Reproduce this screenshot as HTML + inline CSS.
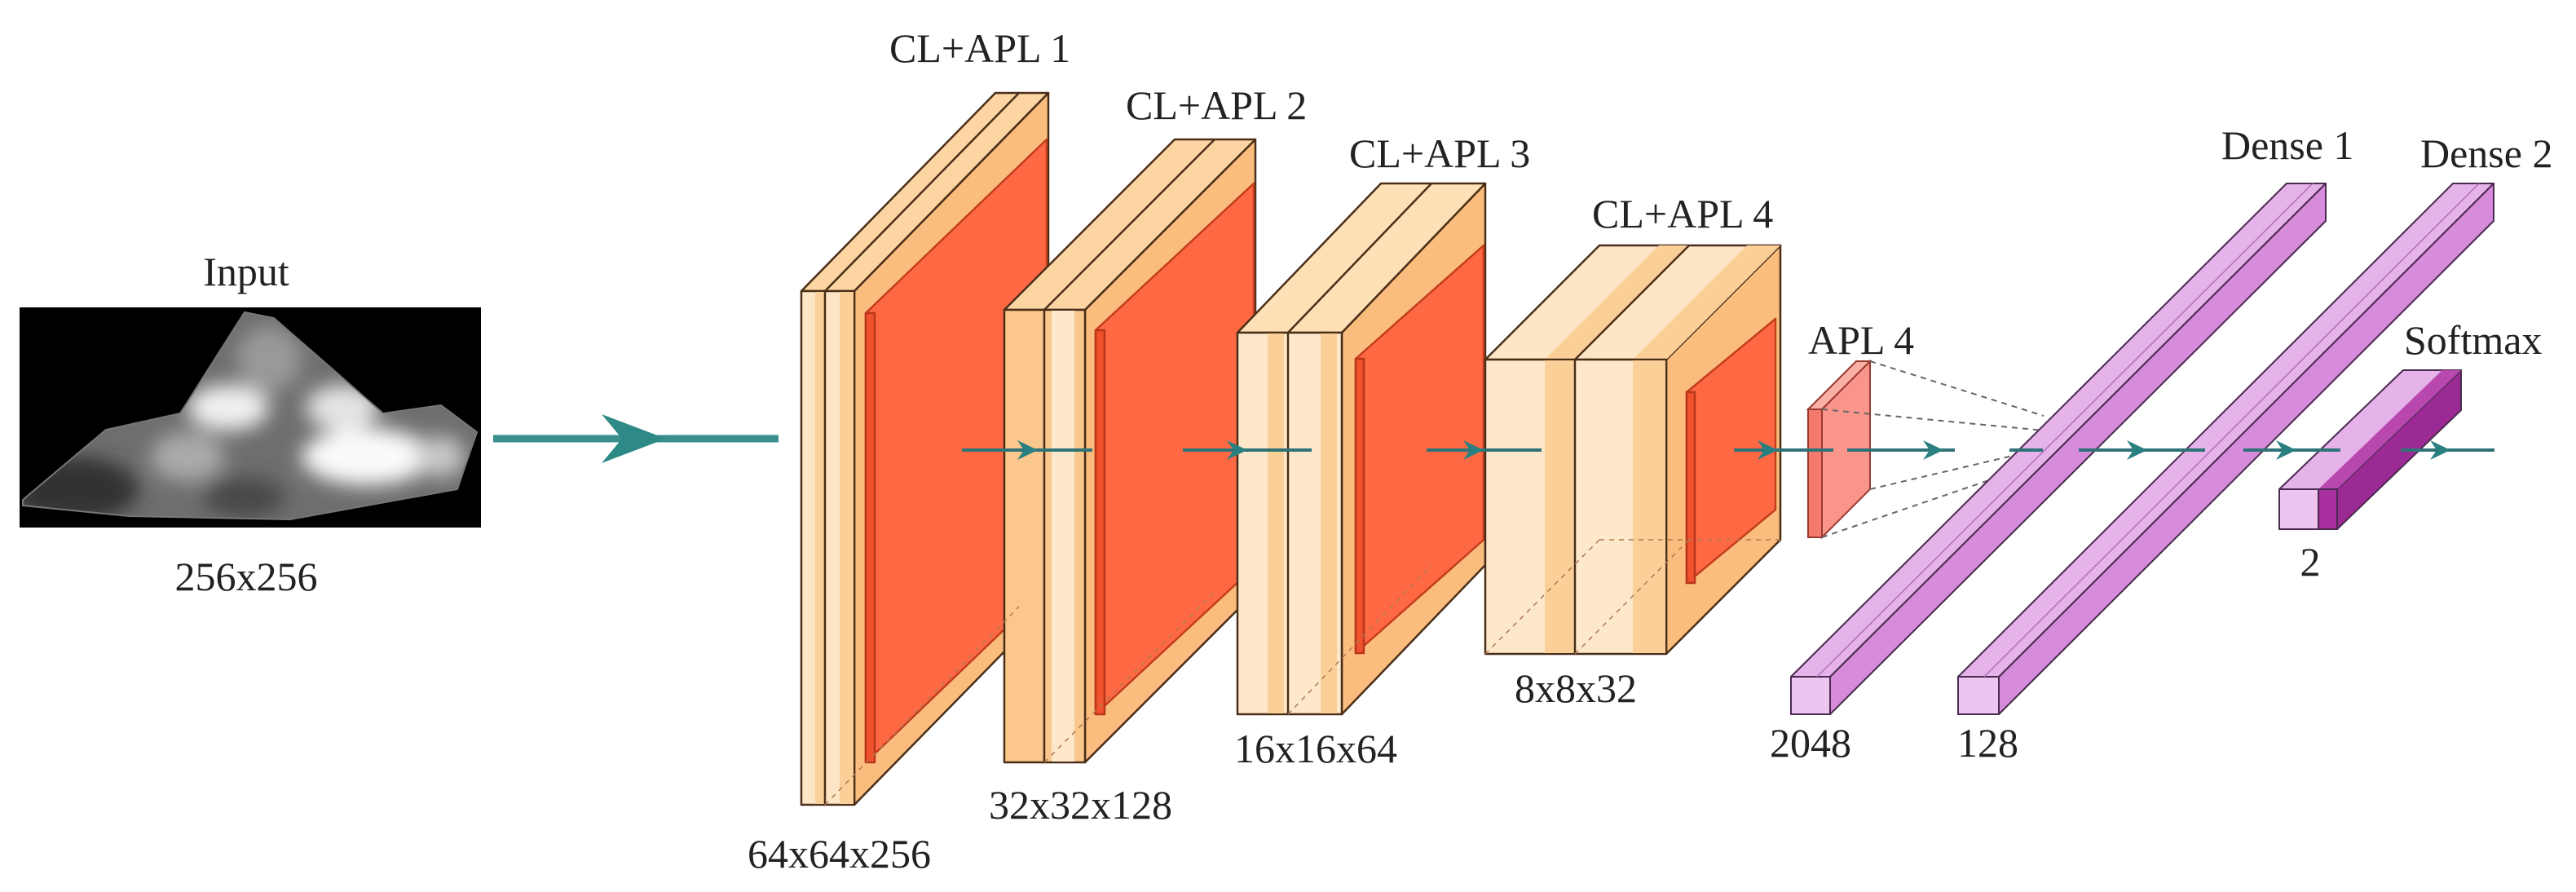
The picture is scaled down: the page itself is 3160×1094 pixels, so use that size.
<!DOCTYPE html>
<html><head><meta charset="utf-8"><style>html,body{margin:0;padding:0;background:#fff}svg{display:block}text{font-family:"Liberation Serif","Times New Roman",serif;font-size:50px;fill:#222}</style></head>
<body>
<svg width="3160" height="1094" viewBox="0 0 3160 1094" xmlns="http://www.w3.org/2000/svg" font-family="Liberation Serif, serif">
<defs>
<clipPath id="blob"><polygon points="28,613 130,527 221,507 300,383 336,390 470,507 541,497 585,530 561,600 356,637 158,633 28,620"/></clipPath>
<filter id="bl" x="-50%" y="-50%" width="200%" height="200%"><feGaussianBlur stdDeviation="12"/></filter>
</defs>
<!-- Input -->
<rect x="24" y="377" width="566" height="270" fill="#000"/>
<g clip-path="url(#blob)">
<rect x="24" y="377" width="566" height="270" fill="#6e6e6e"/>
<g filter="url(#bl)">
<ellipse cx="90" cy="600" rx="80" ry="40" fill="#303030"/>
<ellipse cx="280" cy="500" rx="50" ry="28" fill="#f0f0f0"/>
<ellipse cx="450" cy="560" rx="80" ry="35" fill="#fafafa"/>
<ellipse cx="420" cy="500" rx="45" ry="28" fill="#e4e4e4"/>
<ellipse cx="330" cy="440" rx="40" ry="40" fill="#999"/>
<ellipse cx="230" cy="560" rx="45" ry="30" fill="#aaa"/>
<ellipse cx="540" cy="560" rx="30" ry="25" fill="#c8c8c8"/>
<ellipse cx="300" cy="610" rx="50" ry="25" fill="#4a4a4a"/>
</g>
</g>
<polygon points="28,613 130,527 221,507 300,383 336,390 470,507 541,497 585,530 561,600 356,637 158,633 28,620" fill="none" stroke="#777" stroke-width="2"/>
<text x="302" y="350" text-anchor="middle">Input</text>
<text x="302" y="724" text-anchor="middle">256x256</text>
<!-- big arrow -->
<line x1="605" y1="538" x2="955" y2="538" stroke="#3a8f8c" stroke-width="9"/>
<polygon points="738,508 817,538 738,568 763,538" fill="#2e8a86"/>

<g stroke="#4a2e18" stroke-width="2.5" stroke-linejoin="round">
<!-- Block1 -->
<polygon points="1048,357 1286,114 1286,744 1048,987" fill="#fbbd7e"/>
<polygon points="983,357 1048,357 1286,114 1221,114" fill="#fcd5a2"/>
<line x1="1012" y1="357" x2="1250" y2="114"/>
<rect x="983" y="357" width="65" height="630" fill="#fde6c6"/>
<rect x="1000" y="358" width="12" height="628" fill="#fbcf98" stroke="none"/>
<rect x="1030" y="358" width="17" height="628" fill="#fbcf98" stroke="none"/>
<line x1="1012" y1="357" x2="1012" y2="987"/>
<polygon points="1062,384 1284,171 1284,722 1062,935" fill="#fe6944" stroke="#c33d1d"/>
<rect x="1062" y="384" width="11" height="551" fill="#f0522d" stroke="#b8361a"/>
<!-- Block2 -->
<polygon points="1331,380 1540,171 1540,726 1331,935" fill="#fbbd7e"/>
<polygon points="1232,380 1331,380 1540,171 1441,171" fill="#fcd5a2"/>
<line x1="1281" y1="380" x2="1490" y2="171"/>
<rect x="1232" y="380" width="99" height="555" fill="#fbc78c"/>
<rect x="1290" y="381" width="28" height="553" fill="#fde8cb" stroke="none"/>
<line x1="1281" y1="380" x2="1281" y2="935"/>
<polygon points="1344,405 1538,225 1538,696 1344,876" fill="#fe6944" stroke="#c33d1d"/>
<rect x="1344" y="405" width="11" height="471" fill="#f0522d" stroke="#b8361a"/>
<!-- Block3 -->
<polygon points="1646,408 1822,225 1822,693 1646,876" fill="#fbbd7e"/>
<polygon points="1518,408 1646,408 1822,225 1694,225" fill="#fde0b5"/>
<line x1="1580" y1="408" x2="1756" y2="225"/>
<rect x="1518" y="408" width="128" height="468" fill="#fde8cb"/>
<rect x="1555" y="409" width="20" height="466" fill="#fbcf98" stroke="none"/>
<rect x="1620" y="409" width="20" height="466" fill="#fbcf98" stroke="none"/>
<line x1="1580" y1="408" x2="1580" y2="876"/>
<polygon points="1663,440 1820,301 1820,662 1663,801" fill="#fe6944" stroke="#c33d1d"/>
<rect x="1663" y="440" width="10" height="361" fill="#f0522d" stroke="#b8361a"/>
<!-- Block4 -->
<polygon points="2044,441 2184,301 2184,662 2044,802" fill="#fbbd7e"/>
<polygon points="1822,441 2044,441 2184,301 1962,301" fill="#fde6c6"/>
<polygon points="1895,441 1932,441 2072,301 2035,301" fill="#fbcf98" stroke="none"/>
<polygon points="2003,441 2044,441 2184,301 2143,301" fill="#fbcf98" stroke="none"/>
<line x1="1932" y1="441" x2="2072" y2="301"/>
<rect x="1822" y="441" width="222" height="361" fill="#fde8cb"/>
<rect x="1895" y="442" width="37" height="359" fill="#fbcf98" stroke="none"/>
<rect x="2003" y="442" width="40" height="359" fill="#fbcf98" stroke="none"/>
<line x1="1932" y1="441" x2="1932" y2="802"/>
<polygon points="2069,481 2178,391 2178,625 2069,715" fill="#fe6944" stroke="#c33d1d"/>
<rect x="2069" y="481" width="10" height="234" fill="#f0522d" stroke="#b8361a"/>
</g>
<!-- dashed hidden lines -->
<g stroke="#b07a50" stroke-width="1.5" stroke-dasharray="6,6" fill="none">
<line x1="1012" y1="987" x2="1250" y2="744"/>
<line x1="1281" y1="935" x2="1490" y2="726"/>
<line x1="1580" y1="876" x2="1756" y2="693"/>
<line x1="1932" y1="802" x2="2072" y2="662"/>
<line x1="1822" y1="802" x2="1962" y2="662"/>
<line x1="1962" y1="662" x2="2184" y2="662"/>
</g>
<text x="1091" y="76">CL+APL 1</text>
<text x="1381" y="146">CL+APL 2</text>
<text x="1655" y="205">CL+APL 3</text>
<text x="1953" y="279">CL+APL 4</text>
<text x="917" y="1064">64x64x256</text>
<text x="1213" y="1004">32x32x128</text>
<text x="1514" y="935">16x16x64</text>
<text x="1858" y="861">8x8x32</text>

<!-- APL4 panel -->
<g stroke="#9a3a30" stroke-width="2">
<polygon points="2235,502 2294,443 2294,600 2235,659" fill="#f9958a"/>
<polygon points="2218,502 2235,502 2294,443 2277,443" fill="#fbb0a6"/>
<rect x="2218" y="502" width="17" height="157" fill="#f47a6e"/>
</g>
<g stroke="#666" stroke-width="2" stroke-dasharray="7,6" fill="none">
<line x1="2294" y1="443" x2="2507" y2="510"/>
<line x1="2235" y1="502" x2="2507" y2="528"/>
<line x1="2235" y1="659" x2="2507" y2="566"/>
<line x1="2294" y1="600" x2="2507" y2="550"/>
</g>
<text x="2218" y="434">APL 4</text>

<!-- Dense bars -->
<g stroke="#4a2a50" stroke-width="2" stroke-linejoin="round">
<polygon points="2245,830 2853,225 2853,271 2245,876" fill="#d68cda"/>
<polygon points="2197,830 2245,830 2853,225 2805,225" fill="#e6b2ea"/>
<rect x="2197" y="830" width="48" height="46" fill="#ecc6f0"/>
<polygon points="2452,830 3059,225 3059,271 2452,876" fill="#d68cda"/>
<polygon points="2402,830 2452,830 3059,225 3009,225" fill="#e6b2ea"/>
<rect x="2402" y="830" width="50" height="46" fill="#ecc6f0"/>
<polygon points="2867,600 3019,454 3019,503 2867,649" fill="#9c2a94"/>
<polygon points="2796,600 2867,600 3019,454 2948,454" fill="#e6b2ea"/>
<polygon points="2844,600 2867,600 3019,454 2996,454" fill="#b848ae" stroke="none"/>
<rect x="2796" y="600" width="71" height="49" fill="#ecc6f0"/>
<rect x="2844" y="600" width="23" height="49" fill="#a8309e"/>
</g>
<g stroke="#b070b8" stroke-width="1.5" fill="none">
<line x1="2229" y1="830" x2="2837" y2="225"/>
<line x1="2434" y1="830" x2="3041" y2="225"/>
</g>
<text x="2725" y="195">Dense 1</text>
<text x="2969" y="205">Dense 2</text>
<text x="2949" y="434">Softmax</text>
<text x="2171" y="928">2048</text>
<text x="2401" y="928">128</text>
<text x="2834" y="706" text-anchor="middle">2</text>

<!-- inner arrows -->
<g stroke="#2f7378" stroke-width="4">
<line x1="1180" y1="552" x2="1340" y2="552"/>
<line x1="1451" y1="552" x2="1609" y2="552"/>
<line x1="1750" y1="552" x2="1891" y2="552"/>
<line x1="2127" y1="552" x2="2249" y2="552"/>
<line x1="2266" y1="552" x2="2398" y2="552"/>
<line x1="2465" y1="552" x2="2506" y2="552"/>
<line x1="2550" y1="552" x2="2705" y2="552"/>
<line x1="2752" y1="552" x2="2871" y2="552"/>
<line x1="2945" y1="552" x2="3060" y2="552"/>
</g>
<g fill="#2a7f80">
<polygon points="1273,552 1248,540 1256,552 1248,564"/>
<polygon points="1530,552 1505,540 1513,552 1505,564"/>
<polygon points="1820,552 1795,540 1803,552 1795,564"/>
<polygon points="2181,552 2156,540 2164,552 2156,564"/>
<polygon points="2384,552 2359,540 2367,552 2359,564"/>
<polygon points="2634,552 2609,540 2617,552 2609,564"/>
<polygon points="2817,552 2792,540 2800,552 2792,564"/>
<polygon points="3006,552 2981,540 2989,552 2981,564"/>
</g>
</svg>
</body></html>
